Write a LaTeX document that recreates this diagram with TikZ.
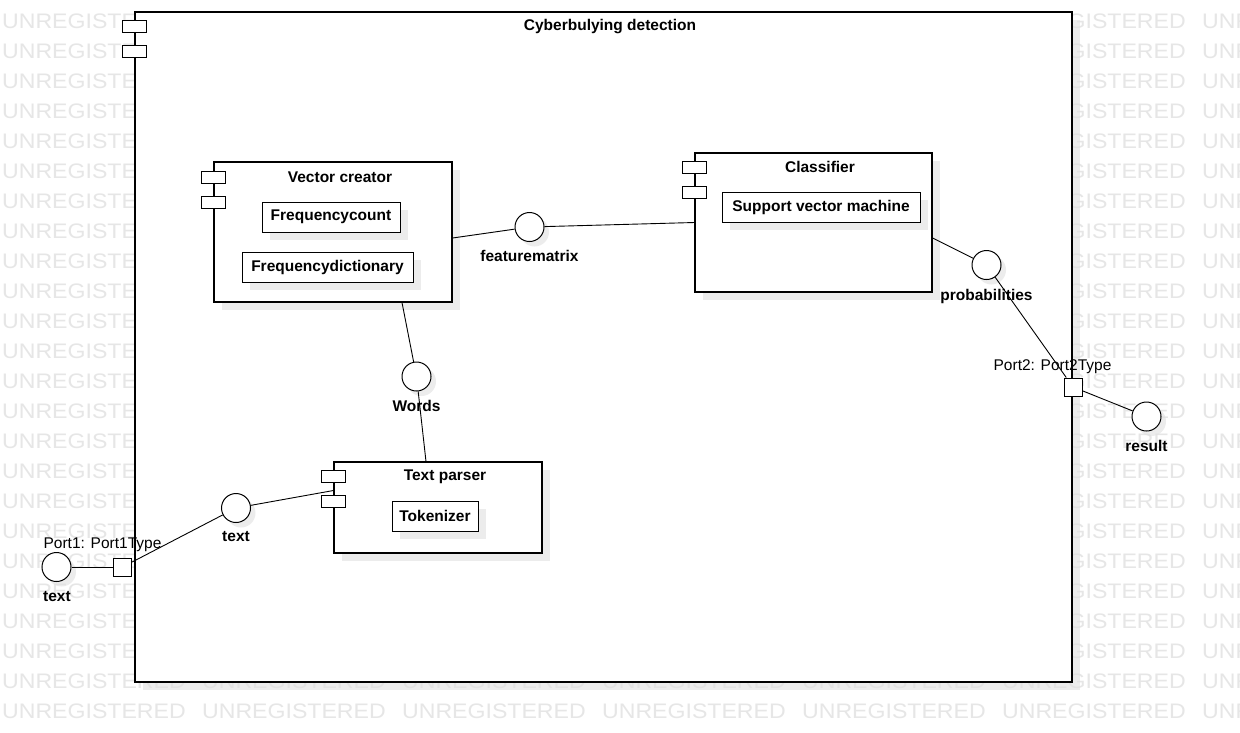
\documentclass[tikz,border=0pt]{standalone}
\usepackage{fontspec}
\setmainfont{Liberation Sans}
\usetikzlibrary{shadows,calc}
\definecolor{wmc}{RGB}{230,230,230}
\begin{document}
\begin{tikzpicture}[x=1pt,y=-1pt,
  wmark/.style={font=\fontsize{21}{23}\selectfont, text=wmc, inner sep=0, anchor=west},
  lbl/.style={font=\fontsize{15.5}{18}\selectfont\bfseries, inner sep=0},
  plainlbl/.style={font=\fontsize{15.5}{18}\selectfont, inner sep=0},
  compbox/.style={draw, line width=1.1pt, fill=white, inner sep=0,
    drop shadow={shadow xshift=8pt, shadow yshift=-8pt, fill=black!12, opacity=0.6}},
  partbox/.style={compbox, line width=1pt, lbl},
  compicon/.style={draw, line width=1pt, fill=white, inner sep=0, minimum width=24pt, minimum height=12pt},
  ball/.style={circle, draw, line width=1pt, fill=white, inner sep=0, minimum size=29pt,
    drop shadow={shadow xshift=5pt, shadow yshift=-5pt, fill=black!12, opacity=0.6}},
  portbox/.style={draw, line width=1pt, fill=white, inner sep=0, minimum size=18pt},
  conn/.style={line width=0.9pt}
]
\useasboundingbox (0,0) rectangle (1240,732);
\fill[white] (0,0) rectangle (1240,732);
% watermark (words wholly hidden by the main box are left out)
\begin{scope}
\clip (0,0) rectangle (1240,732);
\foreach \r in {0,...,21}{
  \foreach \c in {0,5,6}{
    \node[wmark] (w\r-\c) at ({2+200*\c},{21+30*\r}) {\scalebox{1.1}[1]{UNREGISTERED}};
  }
}
\foreach \r in {22,23}{
  \foreach \c in {0,...,6}{
    \node[wmark] (w\r-\c) at ({2+200*\c},{21+30*\r}) {\scalebox{1.1}[1]{UNREGISTERED}};
  }
}
\end{scope}

% main component
\node[compbox, minimum width=937pt, minimum height=670pt] (main) at (603.5,347) {};
\node[lbl] (maint) at (610,27) {Cyberbulying detection};
\node[compicon] (mi1) at ($(main.north west)+(0,15)$) {};
\node[compicon] (mi2) at ($(main.north west)+(0,40)$) {};

% Vector creator
\node[compbox, minimum width=238pt, minimum height=140pt] (vc) at (333,232) {};
\node[lbl] (vct) at (340,177) {Vector creator};
\node[compicon] (vci1) at ($(vc.north west)+(0,16)$) {};
\node[compicon] (vci2) at ($(vc.north west)+(0,41)$) {};
\node[partbox, minimum width=138pt, minimum height=30pt] (fc) at (331,217) {Frequencycount};
\node[partbox, minimum width=171pt, minimum height=30pt] (fd) at (327.5,267) {Frequencydictionary};

% Classifier
\node[compbox, minimum width=237pt, minimum height=139pt] (cl) at (813.5,222.5) {};
\node[lbl] (clt) at (820,167) {Classifier};
\node[compicon] (cli1) at ($(cl.north west)+(0,15)$) {};
\node[compicon] (cli2) at ($(cl.north west)+(0,40)$) {};
\node[partbox, minimum width=198pt, minimum height=30pt] (svm) at (821,207) {Support vector machine};

% Text parser
\node[compbox, minimum width=208pt, minimum height=91pt] (tp) at (438,507.5) {};
\node[lbl] (tpt) at (445,477) {Text parser};
\node[compicon] (tpi1) at ($(tp.north west)+(0,15)$) {};
\node[compicon] (tpi2) at ($(tp.north west)+(0,40)$) {};
\node[partbox, minimum width=86pt, minimum height=30pt] (tok) at (435,516) {Tokenizer};

% ports
\node[portbox] (p1) at (122.5,567) {};
\node[plainlbl] (p1l) at (102.5,545) {Port1: Port1Type};
\node[portbox] (p2) at (1073,387) {};
\node[plainlbl] (p2l) at (1052.5,367) {Port2: Port2Type};

% interfaces
\node[ball] (fm) at (529.5,227) {};
\node[lbl] (fml) at (529.5,256) {featurematrix};
\node[ball] (pb) at (986.5,265) {};
\node[lbl] (pbl) at (986.5,296) {probabilities};
\node[ball] (wd) at (416.5,376.5) {};
\node[lbl] (wdl) at (416.5,406) {Words};
\node[ball] (tx) at (236,508) {};
\node[lbl] (txl) at (236,537) {text};
\node[ball] (tx2) at (56.5,567) {};
\node[lbl] (tx2l) at (57,597) {text};
\node[ball] (res) at (1146.5,416.5) {};
\node[lbl] (resl) at (1146.5,446) {result};

% connectors
\draw[conn] ([yshift=-6pt]vc.east) -- (fm);
\draw[conn] (fm) -- (cl.west);
\draw[conn] ([yshift=-15.5pt]cl.east) -- (pb);
\draw[conn] (pb) -- (p2);
\draw[conn] (p2) -- (res);
\draw[conn] ([xshift=69pt]vc.south) -- (wd);
\draw[conn] (wd) -- ([xshift=-12pt]tp.north);
\draw[conn] (tx) -- ([yshift=17pt]tp.west);
\draw[conn] (p1) -- (tx);
\draw[conn] (tx2) -- (p1);
\end{tikzpicture}
\end{document}
